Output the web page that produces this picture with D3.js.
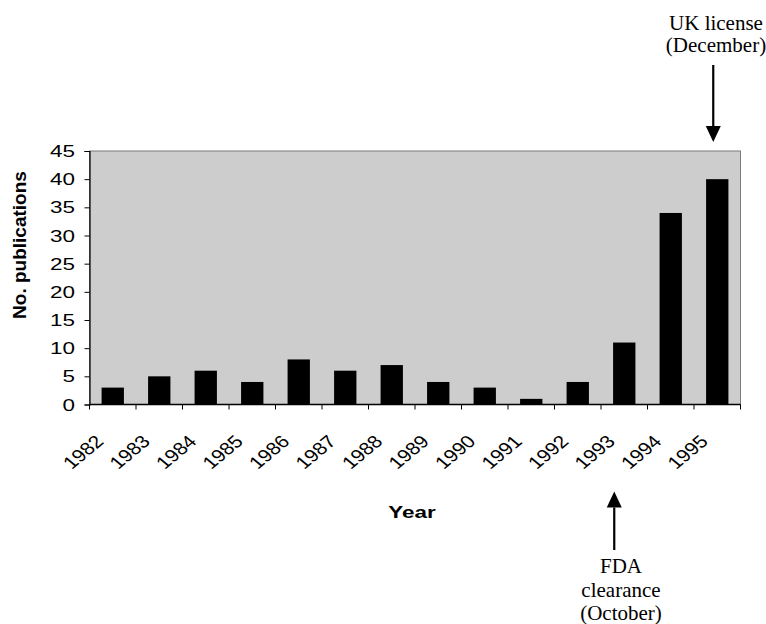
<!DOCTYPE html>
<html>
<head>
<meta charset="utf-8">
<script src="https://cdn.jsdelivr.net/npm/d3@7"></script>
<style>
  body { margin: 0; background: #fff; }
  svg { display: block; }
  .sans { font-family: "Liberation Sans", Arial, sans-serif; fill: #000; }
  .serif { font-family: "Liberation Serif", "Times New Roman", serif; fill: #000; font-size: 21px; }
</style>
</head>
<body>
<script>
// data
var years = ["1982","1983","1984","1985","1986","1987","1988","1989","1990","1991","1992","1993","1994","1995"]
var pubs = [3, 5, 6, 4, 8, 6, 7, 4, 3, 1, 4, 11, 34, 40]
var yTicks = [0, 5, 10, 15, 20, 25, 30, 35, 40, 45]

const w = 766, h = 624
const plotL = 89.5, plotR = 740.5, plotT = 151, plotB = 404.5
const stretch = 1.32   // the original chart text looks widened

const svg = d3.select("body").append("svg").attr("width", w).attr("height", h)

const x = d3.scaleBand().domain(years).range([plotL, plotR]).paddingInner(0.52).paddingOuter(0.26)
const y = d3.scaleLinear().domain([0, 45]).range([plotB, plotT])

// plot background
svg.append("rect")
   .attr("x", plotL).attr("y", plotT)
   .attr("width", plotR - plotL).attr("height", plotB - plotT)
   .attr("fill", "#cdcdcd")
   .attr("stroke", "#7a7a7a").attr("stroke-width", 1)

// bars
svg.selectAll("rect.bar")
   .data(years)
   .enter()
   .append("rect")
   .attr("class", "bar")
   .attr("x", d => x(d))
   .attr("y", (d, i) => y(pubs[i]))
   .attr("width", x.bandwidth())
   .attr("height", (d, i) => plotB - y(pubs[i]))
   .attr("fill", "#000")

// y axis
const yAxis = d3.axisLeft(y).tickValues(yTicks).tickSize(5).tickFormat("")
const gy = svg.append("g").attr("transform", "translate(" + plotL + ",0)").call(yAxis)
gy.select(".domain").attr("stroke", "#000").attr("stroke-width", 1.2)
gy.selectAll(".tick line").attr("stroke", "#000")

svg.append("g").selectAll("text")
   .data(yTicks)
   .enter()
   .append("text")
   .attr("class", "sans")
   .attr("text-anchor", "end")
   .attr("dy", "0.36em")
   .attr("font-size", "17px")
   .attr("transform", d => "translate(75," + y(d) + ") scale(" + stretch + ",1)")
   .text(d => d)

// x axis: ticks on category boundaries
const gap = (x.step() - x.bandwidth()) / 2
const bounds = years.map(d => x(d) - gap).concat([x(years[years.length - 1]) + x.bandwidth() + gap])
svg.append("line")
   .attr("x1", plotL).attr("x2", plotR)
   .attr("y1", plotB).attr("y2", plotB)
   .attr("stroke", "#000").attr("stroke-width", 1.5)
svg.append("g").selectAll("line")
   .data(bounds)
   .enter()
   .append("line")
   .attr("x1", d => d).attr("x2", d => d)
   .attr("y1", plotB).attr("y2", plotB + 5)
   .attr("stroke", "#000")

svg.append("g").selectAll("text")
   .data(years)
   .enter()
   .append("text")
   .attr("class", "sans")
   .attr("text-anchor", "end")
   .attr("font-size", "17.5px")
   .attr("transform", d => "translate(" + (x(d) + x.bandwidth() / 2 - 8) + "," + (plotB + 38) + ") scale(1.2,1) rotate(-45)")
   .text(d => d)

// axis titles
svg.append("text")
   .attr("class", "sans")
   .attr("font-weight", "bold")
   .attr("font-size", "17px")
   .attr("text-anchor", "middle")
   .attr("transform", "translate(412,518) scale(" + stretch + ",1)")
   .text("Year")

svg.append("text")
   .attr("class", "sans")
   .attr("font-weight", "bold")
   .attr("font-size", "19px")
   .attr("text-anchor", "middle")
   .attr("transform", "translate(26,245) rotate(-90)")
   .text("No. publications")

// annotations
function arrow(xc, tipY, tailY) {
  var dir = tailY > tipY ? 1 : -1
  var headBase = tipY + dir * 16
  svg.append("line")
     .attr("x1", xc).attr("x2", xc)
     .attr("y1", tailY).attr("y2", headBase)
     .attr("stroke", "#000").attr("stroke-width", 2.2)
  svg.append("path")
     .attr("d", "M" + xc + "," + tipY + "L" + (xc - 7.5) + "," + headBase + "L" + (xc + 7.5) + "," + headBase + "Z")
     .attr("fill", "#000")
}

var ukX = x("1995") + x.bandwidth() / 2 - 4
arrow(ukX, 142, 65)
svg.append("text").attr("class", "serif").attr("text-anchor", "middle")
   .attr("x", 716).attr("y", 30).text("UK license")
svg.append("text").attr("class", "serif").attr("text-anchor", "middle")
   .attr("x", 716).attr("y", 52).text("(December)")

var fdaX = x("1993") + x.bandwidth() / 2 - 10
arrow(fdaX, 491.5, 550)
svg.append("text").attr("class", "serif").attr("text-anchor", "middle")
   .attr("x", 621).attr("y", 573).text("FDA")
svg.append("text").attr("class", "serif").attr("text-anchor", "middle")
   .attr("x", 621).attr("y", 597).text("clearance")
svg.append("text").attr("class", "serif").attr("text-anchor", "middle")
   .attr("x", 621).attr("y", 620).text("(October)")
</script>
</body>
</html>
